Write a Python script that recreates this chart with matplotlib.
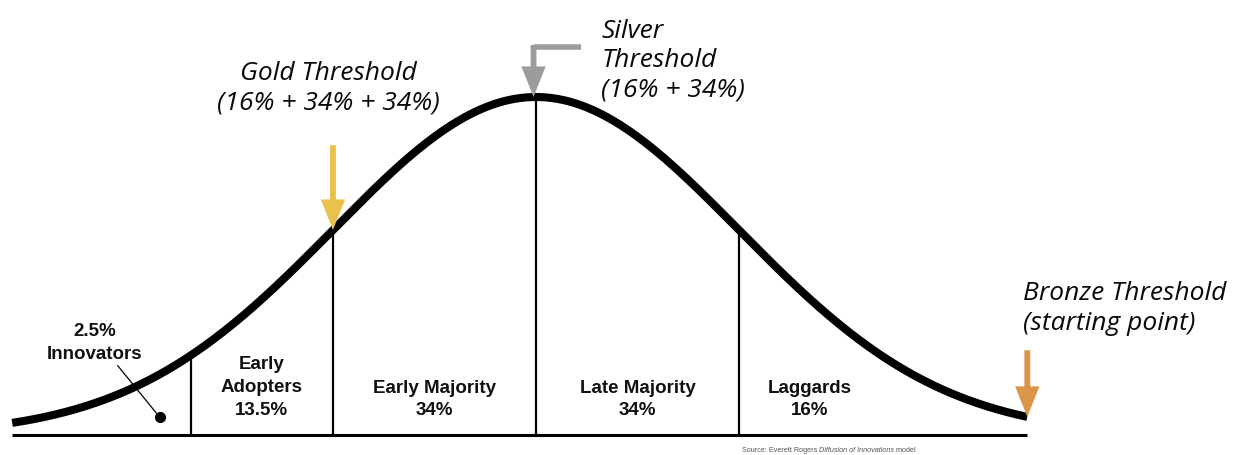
import numpy as np
import matplotlib
matplotlib.use("Agg")
import matplotlib.pyplot as plt

# adoption curve, x in standard deviations from the mean
z_start, z_end = -2.58, 2.42
boundaries = [-1.7, -1.0, 0.0, 1.0, 1.7]   # last one only closes the Laggards label
seg_names = ["Early\nAdopters", "Early Majority", "Late Majority", "Laggards"]
seg_shares = ["13.5%", "34%", "34%", "16%"]
innov_share = "2.5%"
innov_name = "Innovators"

# thresholds marked with arrows
thr_names = ["Gold Threshold", "Silver\nThreshold", "Bronze Threshold"]
thr_subs = ["(16% + 34% + 34%)", "(16% + 34%)", "(starting point)"]
thr_z = [-1.0, 0.0, 2.42]
thr_colors = ["#E9C24B", "#9C9C9C", "#DB964B"]

source_parts = ["Source: Everett Rogers ", "Diffusion of Innovations", " model"]


def curve(z):
    return np.exp(-np.asarray(z) ** 2 / 2)


fig = plt.figure(figsize=(12.37, 4.55), dpi=100)
ax = fig.add_axes([0, 0, 1, 1])
ax.set_xlim(-2.640, 3.453)
ax.set_ylim(-0.0592, 1.287)
ax.axis("off")

zz = np.linspace(z_start, z_end, 400)
ax.plot(zz, curve(zz), color="black", lw=5.8, solid_capstyle="butt", zorder=3)
ax.plot([z_start, z_end], [0, 0], color="black", lw=2.2, solid_capstyle="butt")
ax.vlines(boundaries[:4], 0, curve(boundaries[:4]), color="black", lw=1.6)

# segment labels
lab = dict(family=["Liberation Sans", "DejaVu Sans"], weight="bold", fontsize=13.5,
           ha="center", va="center", linespacing=1.45, color="#111111")
for i in range(len(seg_names)):
    mid = (boundaries[i] + boundaries[i + 1]) / 2
    txt = seg_names[i] + "\n" + seg_shares[i]
    ypos = 0.140 if "\n" in seg_names[i] else 0.105
    ax.text(mid, ypos, txt, **lab)

# innovators with leader line and dot
ax.text(-2.172, 0.272, innov_share + "\n" + innov_name, **lab)
ax.plot([-2.06, -1.87], [0.205, 0.065], color="black", lw=0.9)
ax.plot([-1.85], [0.053], "o", color="black", ms=7)

# threshold arrows and captions
ital = dict(family=["Open Sans", "DejaVu Sans"], style="italic", fontsize=19,
            linespacing=1.22, color="#0a0a0a")
arrow = dict(arrowstyle="simple,head_length=2.2,head_width=1.75,tail_width=0.42",
             mutation_scale=10, lw=0, shrinkA=0, shrinkB=0)

# gold
zg = thr_z[0]
ax.annotate("", xy=(zg, curve(zg)), xytext=(0, 61), textcoords="offset points",
            arrowprops=dict(arrow, color=thr_colors[0]), zorder=5)
ax.annotate(thr_names[0] + "\n" + thr_subs[0], xy=(zg, curve(zg)), xytext=(-3, 102),
            textcoords="offset points", ha="center", va="center", **ital)

# silver, elbow arrow
zs = thr_z[1]
ys = float(curve(zs))
ax.plot([zs - 0.012, zs + 0.22], [ys + 0.148, ys + 0.148], color=thr_colors[1],
        lw=4, solid_capstyle="butt", zorder=5)
ax.annotate("", xy=(zs - 0.012, ys), xytext=(zs - 0.012, ys + 0.148 + 0.006),
            arrowprops=dict(arrow, color=thr_colors[1]), zorder=5)
ax.annotate(thr_names[1] + "\n" + thr_subs[1], xy=(zs, ys), xytext=(47, 26),
            textcoords="offset points", ha="left", va="center", **ital)

# bronze
zb = thr_z[2]
ax.annotate("", xy=(zb, curve(zb)), xytext=(0, 48), textcoords="offset points",
            arrowprops=dict(arrow, color=thr_colors[2]), zorder=5)
ax.annotate(thr_names[2] + "\n" + thr_subs[2], xy=(zb, curve(zb)), xytext=(-3, 78),
            textcoords="offset points", ha="left", va="center", **ital)

# source line
src = dict(family=["Liberation Sans", "DejaVu Sans"], fontsize=5.2, color="#555555")
t = ax.text(742 / 1237, 1 - 451 / 455, source_parts[0], transform=fig.transFigure,
            ha="left", va="center", **src)
t = ax.annotate(source_parts[1], xy=(1, 0.5), xycoords=t, ha="left", va="center",
                style="italic", **src)
ax.annotate(source_parts[2], xy=(1, 0.5), xycoords=t, ha="left", va="center", **src)

fig.savefig("out.png", dpi=100)
